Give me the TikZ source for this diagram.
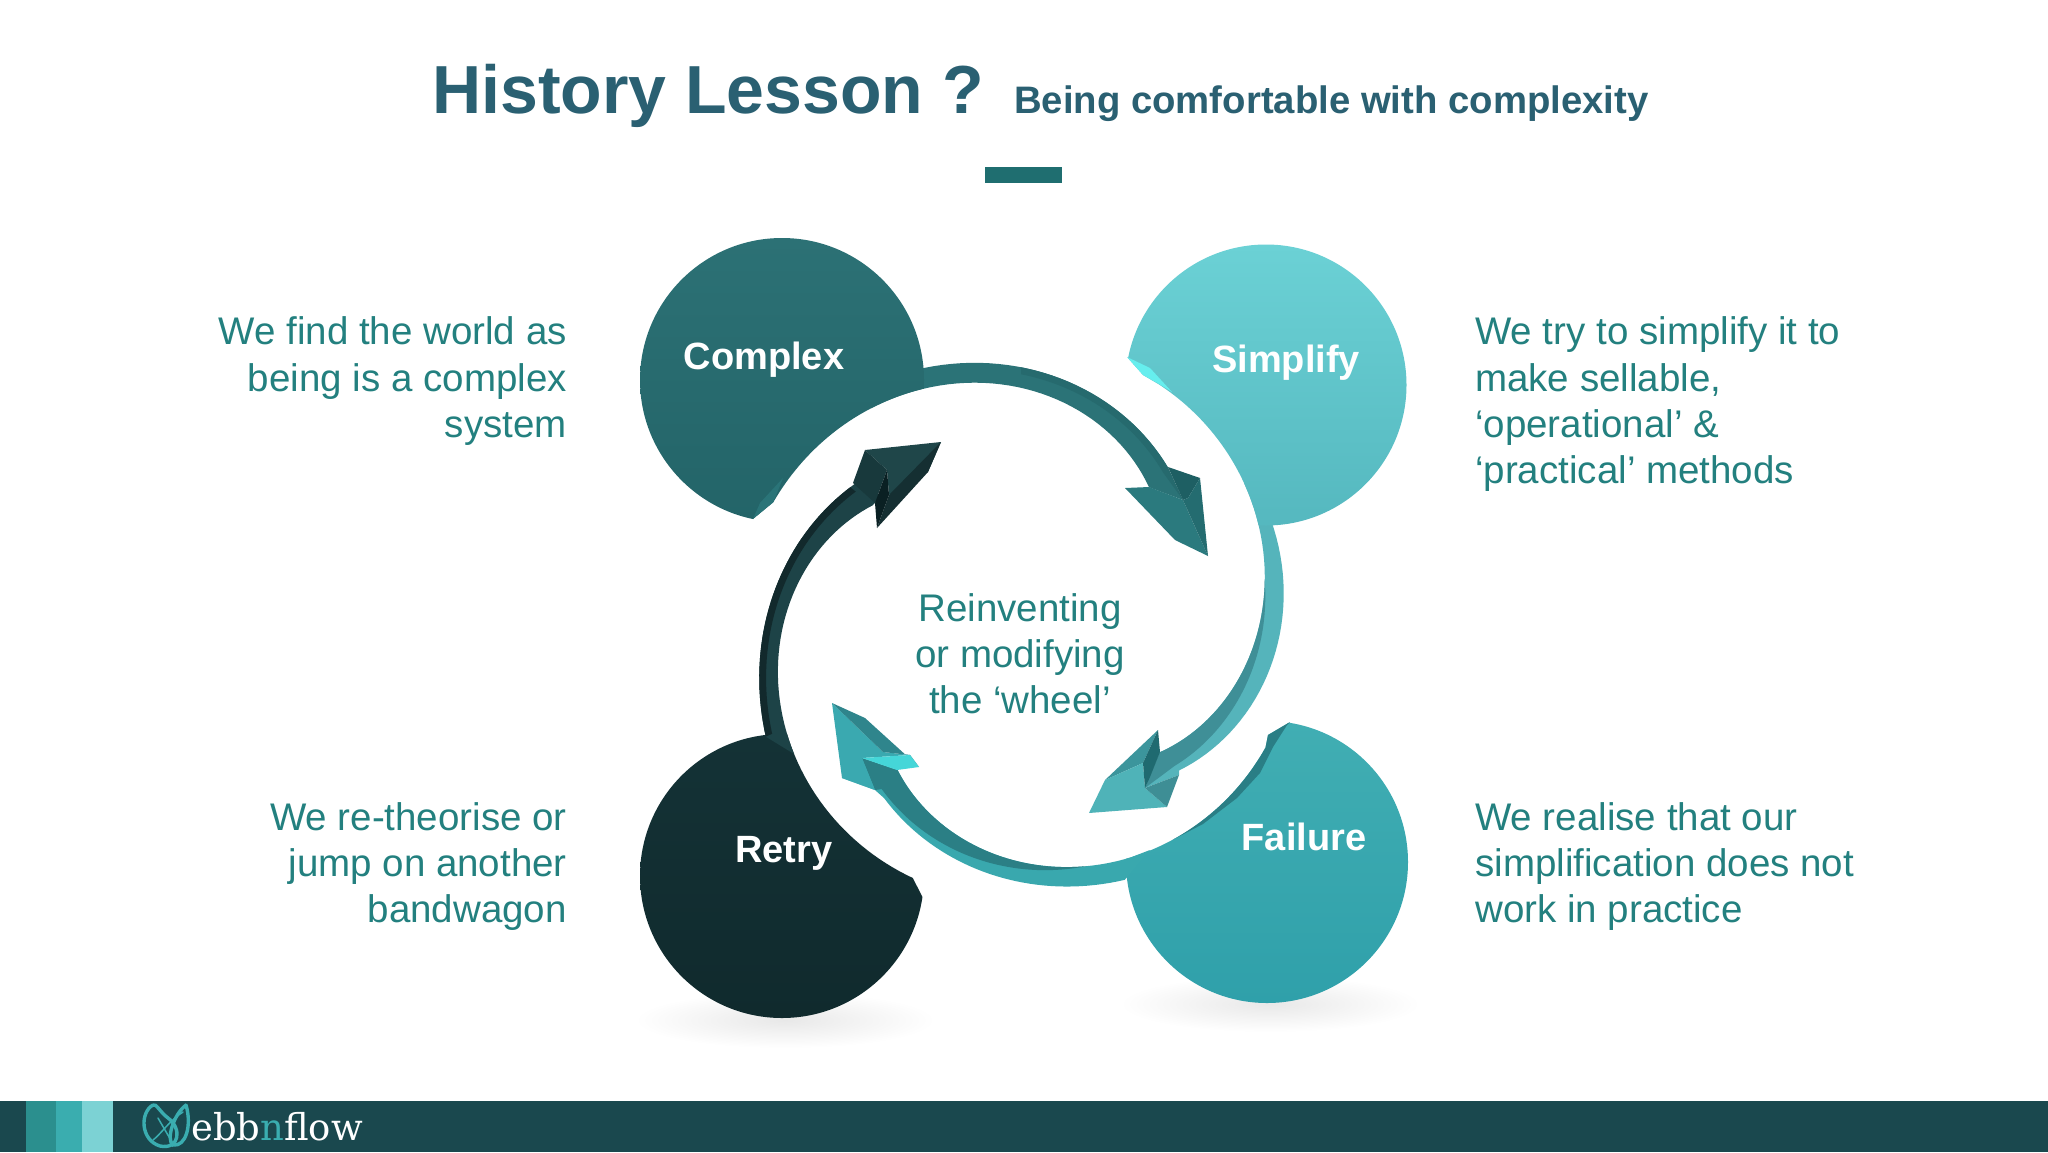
\documentclass[tikz,border=0pt]{standalone}
\usepackage{fontspec}
\setmainfont{Liberation Sans}
\newfontfamily\logofont{DejaVu Serif}
\definecolor{titlec}{HTML}{2A6072}
\definecolor{barc}{HTML}{1F6E70}
\definecolor{bodyc}{HTML}{23807F}
\definecolor{footc}{HTML}{1A484E}
\definecolor{logoc}{HTML}{3AADB0}
\definecolor{stripa}{HTML}{2B8F8E}
\definecolor{stripb}{HTML}{3AADAF}
\definecolor{stripc}{HTML}{7CD2D4}
\definecolor{cxtop}{HTML}{2C7175}
\definecolor{cxbot}{HTML}{236468}
\definecolor{sitop}{HTML}{6BD1D5}
\definecolor{sibot}{HTML}{55B8BF}
\definecolor{fatop}{HTML}{41AEB3}
\definecolor{fabot}{HTML}{2FA0AA}
\definecolor{retop}{HTML}{143236}
\definecolor{rebot}{HTML}{102A2D}
\definecolor{aband}{HTML}{2B7377}
\definecolor{astrip}{HTML}{266A6E}
\definecolor{aridge}{HTML}{1E5F63}
\definecolor{aleft}{HTML}{2B7A7E}
\definecolor{aright}{HTML}{246C70}
\definecolor{bband}{HTML}{55B4BB}
\definecolor{bstrip}{HTML}{3F8F97}
\definecolor{bup}{HTML}{3C959C}
\definecolor{bmain}{HTML}{4FB3B8}
\definecolor{bnotch}{HTML}{1F6A70}
\definecolor{blow}{HTML}{3E8E95}
\definecolor{cband}{HTML}{39A8AE}
\definecolor{cstrip}{HTML}{2B7F85}
\definecolor{cmain}{HTML}{3AA9B0}
\definecolor{cup}{HTML}{2F858C}
\definecolor{cbright}{HTML}{45D6D8}
\definecolor{dband}{HTML}{1D4347}
\definecolor{dstrip}{HTML}{12292C}
\definecolor{dtop}{HTML}{1F4649}
\definecolor{dleft}{HTML}{18393C}
\definecolor{dnotch}{HTML}{0A2023}
\definecolor{dright}{HTML}{152F32}
\definecolor{sihigh}{HTML}{66EEEE}
\definecolor{fafacet}{HTML}{2A7E85}
\definecolor{cxfacet}{HTML}{2A7478}
\tikzset{
  x=1pt,y=-1pt,
  declare function={
    aI(\t)=273-.402*(\t+147)-.00458*(\t+147)*(\t+147);
    aO(\t)=273-.7735*(\t+111)-.00223*(\t+111)*(\t+111);
    aS(\t)=aO(\t)-7;
    bI(\t)=275.6-.109*(\t+60)-.00705*(\t+60)*(\t+60)-5*sin((\t+60)*1.75);
    bO(\t)=270-.251*(\t+21)-.00921*(\t+21)*(\t+21);
    bS(\t)=bI(\t)+.38*(\t+10);
    cI(\t)=274-.208*(\t-29)-.00598*(\t-29)*(\t-29);
    cO(\t)=277-.75*(\t-68)-.0027*(\t-68)*(\t-68);
    cS(\t)=cI(\t)+.45*(\t-75);
    dI(\t)=277-.175*(\t-113)-.00623*(\t-113)*(\t-113);
    dO(\t)=279.4-.98*(\t-156);
    dS(\t)=dO(\t)-7;
  },
  sidetext/.style={inner sep=0pt,text=bodyc,font=\fontsize{38.5}{46.4}\selectfont},
  lefttext/.style={sidetext,align=right,anchor=north east},
  righttext/.style={sidetext,align=left,anchor=north west},
  midtext/.style={sidetext,align=center,anchor=north},
  bubble/.style={inner sep=0pt,anchor=base,text=white,font=\fontsize{38}{46}\selectfont\bfseries},
  softshadow/.style={inner color=black!9,outer color=white,draw=none},
  logoline/.style={draw=logoc,line width=3.4pt,line cap=round},
}
\def\sp#1#2#3{plot[domain=#2:#3,samples=40,variable=\t] ({1021+#1(\t)*cos(\t)},{623+#1(\t)*sin(\t)})}
\def\lsp#1#2#3{-- plot[domain=#2:#3,samples=40,variable=\t] ({1021+#1(\t)*cos(\t)},{623+#1(\t)*sin(\t)})}
\begin{document}
\begin{tikzpicture}
\useasboundingbox (0,0) rectangle (2048,1152);
\fill[white] (0,0) rectangle (2048,1152);

% title
\node[inner sep=0pt,anchor=base west,text=titlec,font=\fontsize{68}{70}\selectfont\bfseries] (title) at (432,113) {History Lesson ?};
\node[inner sep=0pt,anchor=base west,text=titlec,font=\fontsize{38.3}{40}\selectfont\bfseries] (subtitle) at (1014,113) {Being comfortable with complexity};
\fill[barc] (985,167) rectangle (1062,183);

% shadows
\shade[softshadow] (785,1020) ellipse (150 and 28);
\shade[softshadow] (1270,1004) ellipse (150 and 28);

% bands that run on from their bubbles (under the bubbles)
\fill[aband] \sp{aO}{-125}{-46.7} -- (1183,500) \lsp{aI}{-46.7}{-125} -- cycle;
\fill[bband] \sp{bO}{-32}{43} -- (1179,775) -- (1145,788) -- (1160,752) \lsp{bI}{43}{-32} -- cycle;

% Complex
\begin{scope}
\clip \sp{aI}{-108}{-154} -- (753,519) -- (740,600) -- (500,600) -- (500,100) -- (960,100) -- (960,400) -- cycle;
\shade[top color=cxtop,bottom color=cxbot] (782,380) circle (142);
\fill[cxfacet] (773,503) -- (753,519) -- (760,503) -- (783,478) -- cycle;
\end{scope}

% Simplify
\begin{scope}
\clip (1127,357) -- (1143,375) \lsp{bI}{-60}{-5} -- (1263,620) -- (1500,620) -- (1500,150) -- (1100,150) -- cycle;
\shade[top color=sitop,bottom color=sibot] (1266,385) circle (140.5);
\fill[sihigh] (1127,357) -- (1150,368) -- (1172,392) -- (1159,384) -- (1143,375) -- cycle;
\end{scope}

% Failure
\begin{scope}
\clip (1290,722) -- (1268,735) \lsp{cI}{27}{70} -- (1103,1040) -- (1500,1040) -- (1500,700) -- (1290,700) -- cycle;
\shade[top color=fatop,bottom color=fabot] (1267,862) circle (141);
\fill[fafacet] (1290,722) -- (1268,735) \lsp{cI}{27}{55} -- (1203,824) -- (1237,798) -- (1260,773) -- (1273,747) -- (1287,725) -- cycle;
\end{scope}

% Retry
\begin{scope}
\clip \sp{dI}{175}{113} -- (923,898) -- (960,1000) -- (960,1100) -- (600,1100) -- (600,644) -- cycle;
\shade[top color=retop,bottom color=rebot] (782,876) circle (142);
\end{scope}

% Arrow 1: Complex to Simplify
\fill[astrip] \sp{aO}{-90}{-46.7} -- (1183,500) \lsp{aS}{-46.7}{-90} -- cycle;
\fill[aridge] (1168,467) -- (1200,478) -- (1188,498) -- (1183,500) -- cycle;
\fill[aleft] (1125,488) -- (1149,487) -- (1183,500) -- (1208,556) -- (1175,540) -- cycle;
\fill[aright] (1183,500) -- (1188,498) -- (1200,478) -- (1208,556) -- cycle;

% Arrow 2: Simplify to Failure
\fill[bstrip] \sp{bI}{43}{-10} \lsp{bS}{-10}{43} -- (1145,788) -- cycle;
\fill[bup] (1105,780) -- (1158,730) -- (1143,763) -- cycle;
\fill[bmain] (1089,813) -- (1105,780) -- (1143,763) -- (1145,788) -- (1167,807) -- cycle;
\fill[bnotch] (1158,730) -- (1160,752) -- (1150,777) -- (1145,788) -- (1143,763) -- cycle;
\fill[blow] (1145,788) -- (1179,775) -- (1167,807) -- cycle;

% Arrow 3: Failure to Retry
\fill[cband] (862,758) -- (842,778) -- (875,790) \lsp{cO}{128}{68} -- (1150,850) \lsp{cI}{65}{130} -- cycle;
\fill[cstrip] \sp{cI}{130}{75} \lsp{cS}{75}{130} -- (875,790) -- (862,758) -- cycle;
\fill[cmain] (832,703) -- (842,778) -- (875,790) -- (862,758) -- (910,755) -- (883,752) -- cycle;
\fill[cup] (832,703) -- (865,718) -- (919,767) -- (910,755) -- (883,752) -- cycle;
\fill[cbright] (862,758) -- (910,755) -- (919,767) -- (897,770) -- cycle;

% Arrow 4: Retry to Complex
\fill[dband] \sp{dO}{156}{218.5} -- (860,480) -- (880,497) -- (873,505) \lsp{dI}{218.6}{150} -- cycle;
\fill[dstrip] \sp{dO}{156}{218.5} \lsp{dS}{218.5}{156} -- cycle;
\fill[dtop] (865,450) -- (941,442) -- (928,472) -- (889,495) -- (887,470) -- cycle;
\fill[dleft] (865,450) -- (887,470) -- (875,503) -- (853,483) -- cycle;
\fill[dright] (941,442) -- (889,495) -- (877,528) -- (928,472) -- cycle;
\fill[dnotch] (887,470) -- (875,503) -- (877,528) -- (889,495) -- cycle;

% labels on bubbles
\node[bubble] (complex) at (764,369) {Complex};
\node[bubble] (simplify) at (1286,372) {Simplify};
\node[bubble] (failure) at (1304,850) {Failure};
\node[bubble] (retry) at (784,862) {Retry};

% side text
\node[lefttext] (tl) at (567,316.5) {We find the world as\\being is a complex\\system};
\node[righttext] (tr) at (1475,316.5) {We try to simplify it to\\make sellable,\\‘operational’ \&\\‘practical’ methods};
\node[lefttext] (bl) at (567,802) {We re-theorise or\\jump on another\\bandwagon};
\node[righttext] (br) at (1475,802) {We realise that our\\simplification does not\\work in practice};
\node[midtext] (mid) at (1020,593) {Reinventing\\or modifying\\the ‘wheel’};

% footer
\fill[footc] (0,1101) rectangle (2048,1152);
\fill[stripa] (26,1101) rectangle (56,1152);
\fill[stripb] (56,1101) rectangle (82,1152);
\fill[stripc] (82,1101) rectangle (113,1152);
\draw[logoline] (153,1105) .. controls (140,1112) and (140,1140) .. (160,1146) .. controls (180,1150) and (182,1128) .. (168,1118) .. controls (160,1112) and (156,1103) .. (153,1105);
\draw[logoline] (186,1105) .. controls (173,1115) and (166,1140) .. (173,1145) .. controls (186,1147) and (192,1125) .. (186,1105);
\draw[logoline,line width=1.5pt] (158,1118) -- (172,1142);
\draw[logoline,line width=1.5pt] (183,1112) .. controls (170,1120) and (160,1135) .. (153,1140);
\node[inner sep=0pt,anchor=base west,text=white,font=\logofont\fontsize{37}{38}\selectfont] (logo) at (191,1140) {ebb\textcolor{logoc}{n}flow};
\end{tikzpicture}
\end{document}
